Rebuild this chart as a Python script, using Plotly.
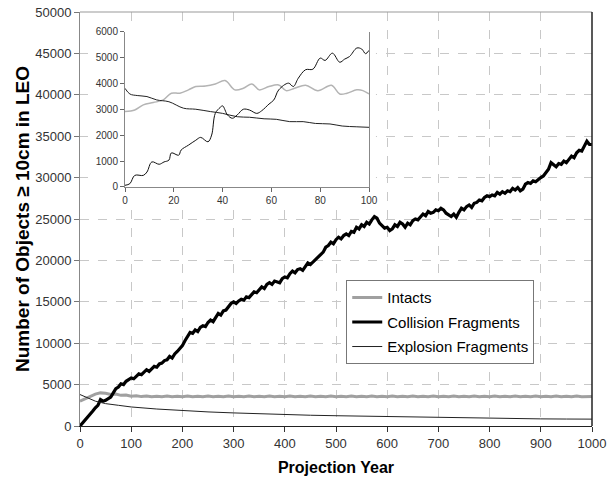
import plotly.graph_objects as go

# ---- main chart data (projection years 0-1000, every 5 years) ----
years = list(range(0, 1001, 5))
collision = [0, 350, 700, 1000, 1400, 1800, 2200, 2500, 3200, 3000,
             3100, 3300, 3500, 4000, 4500, 4700, 5100, 5000, 5400, 5600,
             5800, 5700, 6000, 6300, 6200, 6500, 6800, 6600, 6900, 7200,
             7100, 7500, 7600, 7900, 8000, 8400, 8200, 8700, 9000, 9300,
             9700, 10300, 10900, 11300, 11200, 11600, 11400, 11900, 12100, 12000,
             12500, 12800, 12600, 13200, 13600, 13400, 13900, 14000, 14400, 14800,
             15000, 14800, 15100, 15300, 15200, 15600, 15500, 15800, 16200, 16100,
             16500, 16800, 16600, 17100, 17300, 17100, 17500, 17400, 17300, 17800,
             18000, 17900, 18400, 18700, 18500, 18900, 19000, 18800, 19300, 19700,
             19500, 19800, 20200, 20500, 20800, 21000, 21600, 21800, 22200, 22000,
             22500, 22800, 22600, 23000, 23200, 23000, 23500, 23400, 24000, 23800,
             24300, 24100, 24600, 24400, 24900, 25300, 25100, 24500, 24200, 23900,
             24000, 23600, 23800, 24300, 24100, 24600, 24400, 24000, 24500, 24300,
             24800, 25000, 24900, 25300, 25600, 25400, 25900, 25700, 25800, 26100,
             26000, 26300, 26100, 25700, 25500, 25300, 25600, 25200, 25800, 26300,
             26100, 26500, 26700, 26400, 26900, 27000, 27300, 27200, 27600, 27800,
             27700, 27900, 27800, 28200, 28000, 28300, 28100, 28400, 28300, 28700,
             28500, 28800, 28400, 28600, 29200, 29400, 29300, 29600, 29500, 29800,
             30000, 30200, 30600, 31000, 31800, 31500, 31300, 31700, 31600, 32000,
             31800, 32200, 32600, 32400, 33000, 33300, 33200, 33800, 34400, 34000,
             34000]
int_years = list(range(0, 1001, 10))
intacts = [3000, 3300, 3600, 3850, 4000, 3950, 3800, 3850, 3700, 3750,
           3600, 3650, 3550, 3620, 3520, 3600, 3540, 3610, 3530, 3590,
           3540, 3610, 3530, 3590, 3540, 3610, 3530, 3590, 3540, 3610,
           3530, 3590, 3540, 3610, 3530, 3590, 3540, 3610, 3530, 3590,
           3540, 3610, 3530, 3590, 3540, 3610, 3530, 3590, 3540, 3610,
           3530, 3590, 3540, 3610, 3530, 3590, 3540, 3610, 3530, 3590,
           3540, 3610, 3530, 3590, 3540, 3610, 3530, 3590, 3540, 3610,
           3530, 3590, 3540, 3610, 3530, 3590, 3540, 3610, 3530, 3590,
           3540, 3610, 3530, 3590, 3540, 3610, 3530, 3590, 3540, 3610,
           3530, 3590, 3540, 3610, 3530, 3590, 3540, 3610, 3530, 3590,
           3560]
expl_years = [0, 10, 20, 30, 40, 50, 75, 100, 150, 200, 250, 300, 350, 400,
              450, 500, 550, 600, 650, 700, 750, 800, 850, 900, 950, 1000]
explosion = [3800, 3500, 3300, 3000, 2850, 2700, 2500, 2300, 2050, 1850, 1700,
             1580, 1470, 1380, 1300, 1240, 1190, 1130, 1070, 1010, 950, 920,
             880, 860, 840, 830]

# ---- inset data (first 100 years) ----
in_col_years = [0, 2, 4, 7.5, 9, 11, 14, 16, 18, 19, 22, 23, 26, 29, 31, 34, 35.5,
                37, 39, 40, 42, 44, 46, 48.5, 51, 54, 56, 59, 61, 63, 67, 69, 71,
                74, 77, 80, 82, 85, 88, 90, 92, 95, 97, 98.6, 100]
in_col = [65, 130, 450, 450, 580, 970, 880, 970, 1040, 1320, 1230, 1430, 1620,
          1810, 1920, 1750, 2010, 2850, 3080, 3140, 2790, 2660, 2790, 3010, 2980,
          2850, 2950, 3210, 3370, 3760, 4020, 3890, 4210, 4540, 4560, 4990, 4900,
          5180, 4830, 4950, 5050, 5380, 5340, 5160, 5290]
in_int_years = [0, 4, 7.5, 11.6, 15.7, 19, 22.5, 26, 29, 33, 37, 41, 45, 48.5, 52,
                55, 59, 63, 66, 69.5, 74, 79, 84.6, 88, 91, 95, 97.5, 100]
in_int = [2920, 2980, 3180, 3270, 3370, 3630, 3630, 3760, 3890, 3910, 3990, 4120,
          3760, 3820, 3990, 3760, 3890, 3950, 3730, 3820, 3940, 3730, 3940, 3600,
          3630, 3760, 3730, 3600]
in_exp_years = [0, 2, 5, 9, 13, 18, 24, 29, 35, 40, 46, 51, 57, 62, 67.5, 73, 78,
                84, 89, 95, 100]
in_exp = [3820, 3600, 3540, 3500, 3370, 3300, 3050, 3010, 2920, 2850, 2720, 2700,
          2640, 2620, 2530, 2530, 2460, 2440, 2360, 2330, 2310]

main_ticks_x = list(range(0, 1001, 100))
main_ticks_y = list(range(0, 50001, 5000))
inset_ticks_x = list(range(0, 101, 20))
inset_ticks_y = list(range(0, 6001, 1000))

FONT = "Liberation Sans, Arial, sans-serif"
GRAY = "#a0a0a0"

fig = go.Figure()

fig.add_trace(go.Scatter(x=int_years, y=intacts, mode="lines", name="Intacts",
                         line=dict(color=GRAY, width=3), legendgroup="a"))
fig.add_trace(go.Scatter(x=years, y=collision, mode="lines", name="Collision Fragments",
                         line=dict(color="black", width=3.2), legendgroup="b"))
fig.add_trace(go.Scatter(x=expl_years, y=explosion, mode="lines", name="Explosion Fragments",
                         line=dict(color="#222222", width=1), legendgroup="c"))

# white box subplot behind the inset
fig.add_trace(go.Scatter(x=[0], y=[0], mode="markers", marker=dict(opacity=0),
                         showlegend=False, hoverinfo="skip", xaxis="x2", yaxis="y2"))

fig.add_trace(go.Scatter(x=in_int_years, y=in_int, mode="lines", showlegend=False,
                         line=dict(color="#b4b4b4", width=1.5, shape="spline"),
                         xaxis="x3", yaxis="y3"))
fig.add_trace(go.Scatter(x=in_exp_years, y=in_exp, mode="lines", showlegend=False,
                         line=dict(color="#222222", width=1, shape="spline"),
                         xaxis="x3", yaxis="y3"))
fig.add_trace(go.Scatter(x=in_col_years, y=in_col, mode="lines", showlegend=False,
                         line=dict(color="#111111", width=1, shape="spline"),
                         xaxis="x3", yaxis="y3"))

tickfont = dict(family=FONT, size=13, color="#333333")
inset_tickfont = dict(family=FONT, size=10, color="#333333")

fig.update_layout(
    width=607, height=478,
    margin=dict(l=80, r=15, t=12, b=52, autoexpand=False),
    paper_bgcolor="white", plot_bgcolor="white",
    font=dict(family=FONT),
    xaxis=dict(range=[0, 1000], tickvals=main_ticks_x, ticks="outside", ticklen=5,
               tickcolor="#333333", tickfont=tickfont, tickformat="d",
               showline=True, linecolor="#222222", linewidth=1,
               showgrid=True, gridcolor="#c8c8c8", griddash="dash", gridwidth=1,
               zeroline=False, automargin=False,
               title=dict(text="Projection Year",
                          font=dict(family=FONT, size=16, color="black", weight="bold"),
                          standoff=12)),
    yaxis=dict(range=[0, 50000], tickvals=main_ticks_y, ticks="outside", ticklen=5,
               tickcolor="#777777", tickfont=tickfont, tickformat="d",
               showline=True, linecolor="#888888", linewidth=1,
               showgrid=True, gridcolor="#c8c8c8", griddash="dash", gridwidth=1,
               zeroline=False, automargin=False,
               title=dict(text="Number of Objects ≥ 10cm in LEO",
                          font=dict(family=FONT, size=19, color="black", weight="bold"),
                          standoff=0)),
    xaxis2=dict(domain=[0.0156, 0.578], anchor="y2", visible=False, range=[0, 1],
                showgrid=False),
    yaxis2=dict(domain=[0.5217, 0.978], anchor="x2", visible=False, range=[0, 1],
                showgrid=False),
    xaxis3=dict(domain=[0.0879, 0.5645], anchor="y3", range=[0, 100],
                tickvals=inset_ticks_x, ticks="outside", ticklen=4, tickcolor="#666666",
                tickfont=inset_tickfont, automargin=False,
                showline=True, linecolor="#888888", linewidth=1,
                showgrid=False, zeroline=False),
    yaxis3=dict(domain=[0.5773, 0.9517], anchor="x3", range=[0, 6000],
                tickvals=inset_ticks_y, ticks="outside", ticklen=4, tickcolor="#666666",
                tickfont=inset_tickfont, tickformat="d", automargin=False,
                showline=True, linecolor="#888888", linewidth=1, mirror=True,
                showgrid=False, zeroline=False),
    legend=dict(x=0.52, y=0.352, xanchor="left", yanchor="top",
                bgcolor="white", bordercolor="#777777", borderwidth=1,
                font=dict(family=FONT, size=15, color="black"),
                tracegroupgap=2, traceorder="grouped"),
    showlegend=True,
    shapes=[
        dict(type="line", xref="paper", yref="paper", x0=0, x1=1, y0=1, y1=1,
             line=dict(color="#999999", width=1)),
        dict(type="line", xref="paper", yref="paper", x0=1, x1=1, y0=0, y1=1,
             line=dict(color="#222222", width=1.5)),
    ],
)

fig.write_html("out.html")
